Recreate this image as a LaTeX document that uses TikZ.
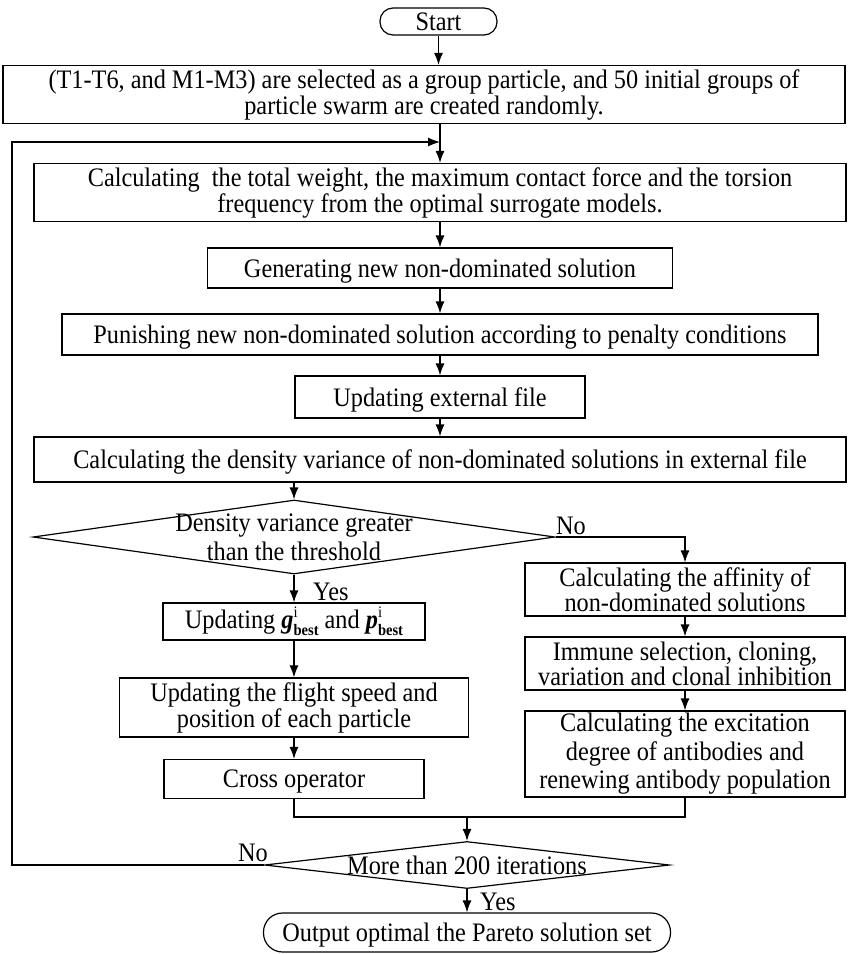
\documentclass[tikz,border=0pt]{standalone}
\usepackage{fontspec}
\setmainfont{Liberation Serif}[FakeStretch=0.91]
\usepackage{tikz}
\usetikzlibrary{arrows.meta}
\usetikzlibrary{shapes.geometric}
\newcommand{\best}[1]{\textbf{\textit{#1}}\rlap{\raisebox{0.42em}{\fontsize{16}{16}\selectfont i}}\raisebox{-0.25em}{\fontsize{16}{16}\selectfont\textbf{best}}}

\begin{document}
\begin{tikzpicture}[
        x=1pt, y=-1pt,
        every node/.style={font=\fontsize{26.7}{26}\selectfont},
        proc/.style={rectangle,draw=black,line width=1.2pt,inner sep=0pt,align=center},
        oneline/.style={text depth=0pt},
        term/.style={proc,oneline,rounded corners=13pt},
        cond/.style={diamond,draw=black,line width=1.2pt,inner sep=0pt},
        note/.style={inner sep=0pt,align=center},
        flow/.style={line width=1.2pt,-{Latex[length=12pt,width=9pt]}},
        line/.style={line width=1.2pt}
      ]
      \useasboundingbox (0,0) rectangle (847,954);

      \node (start)[term, minimum width=117pt, minimum height=27pt] at (438.5,21.5) {Start};
      \node (init)[proc, minimum width=842pt, minimum height=58pt] at (424,94.5) {(T1-T6, and M1-M3) are selected as a group particle, and 50 initial groups of\\particle swarm are created randomly.};
      \node (calc)[proc, minimum width=812pt, minimum height=58pt] at (440,192.5) {Calculating\ \ the total weight, the maximum contact force and the torsion\\frequency from the optimal surrogate models.};
      \node (gen)[proc, oneline, minimum width=465pt, minimum height=40pt] at (440,268) {Generating new non-dominated solution};
      \node (punish)[proc, oneline, minimum width=756pt, minimum height=41pt] at (440,334.5) {Punishing new non-dominated solution according to penalty conditions};
      \node (update)[proc, oneline, minimum width=290pt, minimum height=42pt] at (440,397) {Updating external file};
      \node (density)[proc, oneline, minimum width=812pt, minimum height=45pt] at (440,459.5) {Calculating the density variance of non-dominated solutions in external file};

      \node (dia1)[cond, minimum width=522pt, minimum height=74pt] at (294,537) {};
      \node (dia1txt)[note, font=\fontsize{26.7}{29}\selectfont] at (dia1) {Density variance greater\\than the threshold};

      \node (gbest)[proc, minimum width=262pt, minimum height=37pt] at (294,621.5) {Updating \best{g} and \best{p}};
      \node (flight)[proc, minimum width=349pt, minimum height=59pt] at (294,707.5) {Updating the flight speed and\\position of each particle};
      \node (cross)[proc, oneline, minimum width=260pt, minimum height=39pt] at (294,779) {Cross operator};

      \node (affin)[proc, minimum width=320pt, minimum height=53pt, font=\fontsize{26.7}{25}\selectfont] at (685,589.5) {Calculating the affinity of\\non-dominated solutions};
      \node (immune)[proc, minimum width=320pt, minimum height=53pt, font=\fontsize{26.7}{25}\selectfont] at (685,663.5) {Immune selection, cloning,\\variation and clonal inhibition};
      \node (excite)[proc, minimum width=320pt, minimum height=86pt, font=\fontsize{26.7}{28.5}\selectfont] at (685,754) {Calculating the excitation\\degree of antibodies and\\renewing antibody population};

      \node (dia2)[cond, minimum width=405pt, minimum height=47pt] at (467,865) {};
      \node (dia2txt)[note, oneline] at (dia2) {More than 200 iterations};
      \node (finish)[term, rounded corners=19pt, minimum width=407pt, minimum height=39pt] at (467,932.5) {Output optimal the Pareto solution set};

      \node (no1)[note, anchor=base west] at (556,534) {No};
      \node (yes1)[note, anchor=west] at (313,592) {Yes};
      \node (no2)[note, anchor=base west] at (238,861) {No};
      \node (yes2)[note, anchor=west] at (480,902) {Yes};

      \coordinate (loopL) at (12,142);
      \coordinate (loopR) at (calc.north |- loopL);
      \coordinate (merge) at (467,817);

      \draw[flow] (start) -- (start |- init.north);
      \draw[flow] (init.south -| calc) -- (calc.north);
      \draw[flow] (dia2.west) -| (loopL) -- (loopR);
      \draw[flow] (calc) -- (gen);
      \draw[flow] (gen) -- (punish);
      \draw[flow] (punish) -- (update);
      \draw[flow] (update) -- (density);
      \draw[flow] (density.south -| dia1) -- (dia1.north);
      \draw[flow] (dia1.south) -- (gbest.north);
      \draw[flow] (gbest) -- (flight);
      \draw[flow] (flight) -- (cross);
      \draw[flow] (dia1.east) -| (affin.north);
      \draw[flow] (affin) -- (immune);
      \draw[flow] (immune) -- (excite);
      \draw[line] (cross.south) |- (merge) -| (excite.south);
      \draw[flow] (merge) -- (dia2.north);
      \draw[flow] (dia2.south) -- (finish.north);
    \end{tikzpicture}
\end{document}
